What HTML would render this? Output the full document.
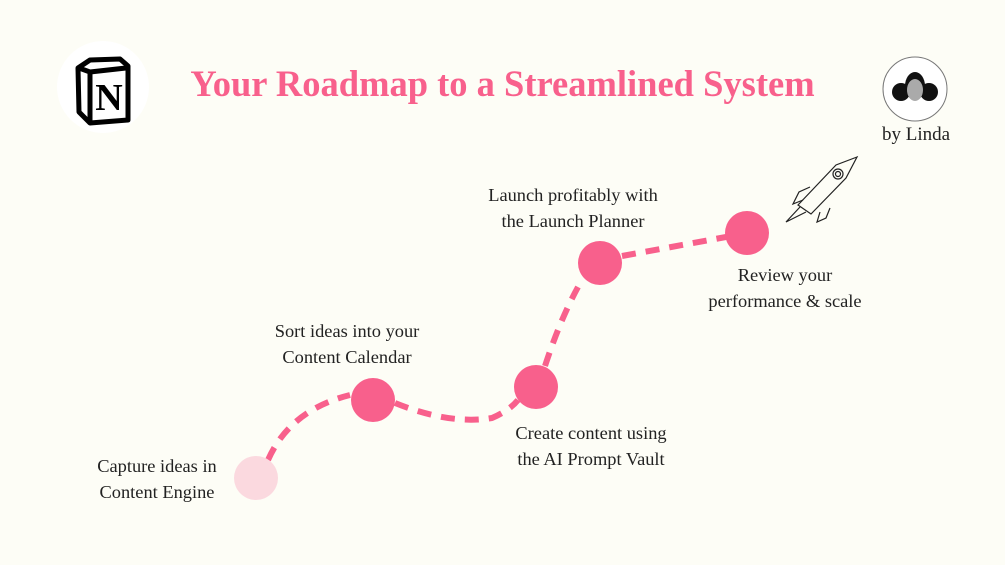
<!DOCTYPE html>
<html><head><style>
body{margin:0;width:1005px;height:565px;background:#fdfdf6;font-family:"Liberation Serif",serif;overflow:hidden;position:relative}
.t{position:absolute;font-size:18.4px;color:#222;text-align:center;line-height:26px;white-space:nowrap;transform:translateX(-50%)}
</style></head><body>
<svg width="1005" height="565" style="position:absolute;left:0;top:0">
<circle cx="103" cy="87" r="46" fill="#fff"/>
<g transform="translate(76,58)">
<path d="M2,10 L14,2 L44,1 L52,8 L52,62 L14,65 L3,54 Z" fill="#fff" stroke="#000" stroke-width="5" stroke-linejoin="round"/>
<path d="M3,10 L14,14 L14,65" fill="none" stroke="#000" stroke-width="5"/>
<path d="M14,14 L50,10" fill="none" stroke="#000" stroke-width="5"/>
<text x="33" y="52" font-family="Liberation Serif" font-weight="bold" font-size="38" text-anchor="middle">N</text>
</g>
<path d="M268,460 Q290,410 350,395 M395,403 Q450,425 492,418 Q510,410 518,400 M545,366 Q560,320 578,287 M622,256 L726,237" fill="none" stroke="#f8608c" stroke-width="6" stroke-dasharray="14,10"/>
<circle cx="256" cy="478" r="22" fill="#fbd9df"/>
<circle cx="373" cy="400" r="22" fill="#f8608c"/>
<circle cx="536" cy="387" r="22" fill="#f8608c"/>
<circle cx="600" cy="263" r="22" fill="#f8608c"/>
<circle cx="747" cy="233" r="22" fill="#f8608c"/>
<circle cx="915" cy="89" r="32" fill="#fff" stroke="#777" stroke-width="1"/>
<ellipse cx="901" cy="92" rx="9" ry="9" fill="#111"/><ellipse cx="929" cy="92" rx="9" ry="9" fill="#111"/>
<ellipse cx="915" cy="86" rx="10" ry="14" fill="#111"/>
<ellipse cx="915" cy="90" rx="8" ry="11" fill="#aaa"/>
<g fill="none" stroke="#222" stroke-width="1.2">
<path d="M857,157 L836,165 L798,205 L811,214 L846,178 Z"/>
<circle cx="838" cy="174" r="5"/><circle cx="838" cy="174" r="2.5"/>
<path d="M810,187 L799,192 L793,204 L803,200"/><path d="M830,208 L826,218 L817,222 L820,212"/>
<path d="M800,207 L786,222 L806,212"/>
</g>
</svg>
<div style="position:absolute;left:0;width:1005px;top:62px;text-align:center;font-size:36.5px;font-weight:bold;color:#f8608c">Your Roadmap to a Streamlined System</div>
<div class="t" style="left:916px;top:122px;font-size:19px">by Linda</div>
<div class="t" style="left:157px;top:453px">Capture ideas in<br>Content Engine</div>
<div class="t" style="left:347px;top:318px">Sort ideas into your<br>Content Calendar</div>
<div class="t" style="left:591px;top:420px">Create content using<br>the AI Prompt Vault</div>
<div class="t" style="left:573px;top:182px">Launch profitably with<br>the Launch Planner</div>
<div class="t" style="left:785px;top:262px">Review your<br>performance &amp; scale</div>
</body></html>
